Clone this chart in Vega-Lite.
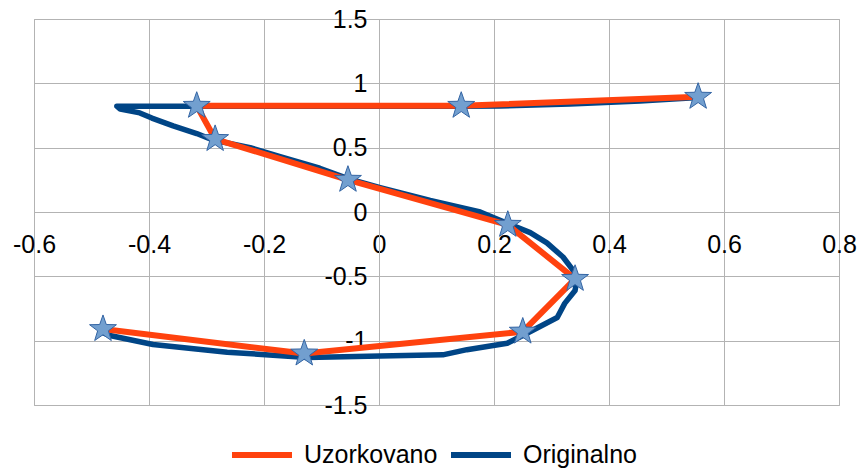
{
  "$schema": "https://vega.github.io/schema/vega-lite/v6.json",
  "width": 805,
  "height": 386,
  "autosize": {"type": "none"},
  "padding": {"left": 34, "top": 19, "right": 21, "bottom": 65},
  "background": "white",
  "config": {
    "view": {"stroke": "#b3b3b3", "strokeWidth": 1},
    "font": "Liberation Sans",
    "axis": {
      "labelFont": "Liberation Sans",
      "labelFontSize": 25,
      "labelColor": "#000000",
      "gridColor": "#b3b3b3",
      "gridWidth": 1,
      "gridOpacity": 1,
      "domainColor": "#b3b3b3",
      "domainWidth": 1,
      "tickColor": "#b3b3b3",
      "tickWidth": 1,
      "labelOverlap": false,
      "labelFlush": false,
      "title": null
    }
  },
  "datasets": {
    "pts": [
      {"series": "Originalno", "i": 0, "x": 0.555, "y": 0.89},
      {"series": "Originalno", "i": 1, "x": 0.454, "y": 0.862},
      {"series": "Originalno", "i": 2, "x": 0.332, "y": 0.839},
      {"series": "Originalno", "i": 3, "x": 0.21, "y": 0.824},
      {"series": "Originalno", "i": 4, "x": 0.144, "y": 0.822},
      {"series": "Originalno", "i": 5, "x": -0.137, "y": 0.822},
      {"series": "Originalno", "i": 6, "x": -0.456, "y": 0.822},
      {"series": "Originalno", "i": 7, "x": -0.45, "y": 0.8},
      {"series": "Originalno", "i": 8, "x": -0.416, "y": 0.77},
      {"series": "Originalno", "i": 9, "x": -0.395, "y": 0.73},
      {"series": "Originalno", "i": 10, "x": -0.358, "y": 0.67},
      {"series": "Originalno", "i": 11, "x": -0.317, "y": 0.61},
      {"series": "Originalno", "i": 12, "x": -0.289, "y": 0.56},
      {"series": "Originalno", "i": 13, "x": -0.224, "y": 0.5},
      {"series": "Originalno", "i": 14, "x": -0.172, "y": 0.43},
      {"series": "Originalno", "i": 15, "x": -0.103, "y": 0.34},
      {"series": "Originalno", "i": 16, "x": -0.054, "y": 0.26},
      {"series": "Originalno", "i": 17, "x": 0.002, "y": 0.19},
      {"series": "Originalno", "i": 18, "x": 0.089, "y": 0.09},
      {"series": "Originalno", "i": 19, "x": 0.176, "y": 0.0},
      {"series": "Originalno", "i": 20, "x": 0.224, "y": -0.09},
      {"series": "Originalno", "i": 21, "x": 0.263, "y": -0.16},
      {"series": "Originalno", "i": 22, "x": 0.292, "y": -0.24},
      {"series": "Originalno", "i": 23, "x": 0.32, "y": -0.35},
      {"series": "Originalno", "i": 24, "x": 0.337, "y": -0.45},
      {"series": "Originalno", "i": 25, "x": 0.344, "y": -0.53},
      {"series": "Originalno", "i": 26, "x": 0.341, "y": -0.61},
      {"series": "Originalno", "i": 27, "x": 0.323, "y": -0.71},
      {"series": "Originalno", "i": 28, "x": 0.31, "y": -0.82},
      {"series": "Originalno", "i": 29, "x": 0.28, "y": -0.89},
      {"series": "Originalno", "i": 30, "x": 0.25, "y": -0.96},
      {"series": "Originalno", "i": 31, "x": 0.223, "y": -1.02},
      {"series": "Originalno", "i": 32, "x": 0.153, "y": -1.07},
      {"series": "Originalno", "i": 33, "x": 0.111, "y": -1.11},
      {"series": "Originalno", "i": 34, "x": 0.002, "y": -1.12},
      {"series": "Originalno", "i": 35, "x": -0.125, "y": -1.13},
      {"series": "Originalno", "i": 36, "x": -0.264, "y": -1.09},
      {"series": "Originalno", "i": 37, "x": -0.393, "y": -1.03},
      {"series": "Originalno", "i": 38, "x": -0.468, "y": -0.96},
      {"series": "Originalno", "i": 39, "x": -0.485, "y": -0.93},
      {"series": "Uzorkovano", "i": 0, "x": 0.555, "y": 0.895},
      {"series": "Uzorkovano", "i": 1, "x": 0.143, "y": 0.825},
      {"series": "Uzorkovano", "i": 2, "x": -0.317, "y": 0.825},
      {"series": "Uzorkovano", "i": 3, "x": -0.285, "y": 0.567},
      {"series": "Uzorkovano", "i": 4, "x": -0.054, "y": 0.25},
      {"series": "Uzorkovano", "i": 5, "x": 0.224, "y": -0.1},
      {"series": "Uzorkovano", "i": 6, "x": 0.341, "y": -0.52},
      {"series": "Uzorkovano", "i": 7, "x": 0.25, "y": -0.93},
      {"series": "Uzorkovano", "i": 8, "x": -0.13, "y": -1.1},
      {"series": "Uzorkovano", "i": 9, "x": -0.48, "y": -0.91}
    ]
  },
  "data": {"name": "pts"},
  "encoding": {
    "x": {
      "field": "x",
      "type": "quantitative",
      "scale": {"domain": [-0.6, 0.8], "nice": false, "zero": false},
      "axis": {
        "orient": "bottom",
        "offset": -193,
        "values": [-0.6, -0.4, -0.2, 0, 0.2, 0.4, 0.6, 0.8],
        "tickSize": 10,
        "labelPadding": 10,
        "labelExpr": "datum.value < 0 ? '-' + format(-datum.value, '~g') : format(datum.value, '~g')"
      }
    },
    "y": {
      "field": "y",
      "type": "quantitative",
      "scale": {"domain": [-1.5, 1.5], "nice": false, "zero": false},
      "axis": {
        "orient": "left",
        "offset": -345,
        "values": [-1.5, -1, -0.5, 0, 0.5, 1, 1.5],
        "tickSize": 10,
        "labelPadding": 2,
        "labelExpr": "datum.value < 0 ? '-' + format(-datum.value, '~g') : format(datum.value, '~g')"
      }
    }
  },
  "layer": [
    {
      "transform": [{"filter": "datum.series === 'Originalno'"}],
      "mark": {"type": "line", "strokeWidth": 5.5, "strokeJoin": "round", "strokeCap": "round"},
      "encoding": {
        "order": {"field": "i", "type": "quantitative"},
        "color": {
          "field": "series",
          "type": "nominal",
          "scale": {"domain": ["Uzorkovano", "Originalno"], "range": ["#ff420e", "#004586"]},
          "legend": {
            "title": null,
            "orient": "none",
            "direction": "horizontal",
            "legendX": 195,
            "legendY": 403,
            "padding": 0,
            "symbolType": "stroke",
            "symbolSize": 3600,
            "symbolStrokeWidth": 6,
            "labelFont": "Liberation Sans",
            "labelFontSize": 25,
            "labelColor": "#000000",
            "labelOffset": 9,
            "columnPadding": 1,
            "labelLimit": 300
          }
        }
      }
    },
    {
      "transform": [{"filter": "datum.series === 'Uzorkovano'"}],
      "mark": {"type": "line", "strokeWidth": 6, "strokeJoin": "round"},
      "encoding": {
        "order": {"field": "i", "type": "quantitative"},
        "color": {"field": "series", "type": "nominal"}
      }
    },
    {
      "transform": [{"filter": "datum.series === 'Uzorkovano'"}],
      "mark": {
        "type": "point",
        "filled": true,
        "shape": "M0,-1L0.235,-0.324L0.951,-0.309L0.38,0.124L0.588,0.809L0,0.4L-0.588,0.809L-0.38,0.124L-0.951,-0.309L-0.235,-0.324Z",
        "size": 800,
        "fill": "#729fcf",
        "stroke": "#3465a4",
        "strokeWidth": 1,
        "opacity": 1
      }
    }
  ]
}
